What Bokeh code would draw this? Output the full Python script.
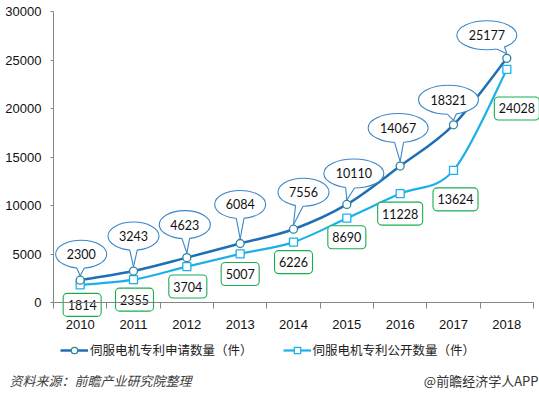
import math
import numpy as np
from bokeh.plotting import figure
from bokeh.models import Range1d, FixedTicker, Legend, LegendItem, Label
from bokeh.core.properties import value
from bokeh.embed import file_html
from bokeh.resources import INLINE

# ---------------- data ----------------
years = ["2010", "2011", "2012", "2013", "2014", "2015", "2016", "2017", "2018"]
applications = [2300, 3243, 4623, 6084, 7556, 10110, 14067, 18321, 25177]
publications = [1814, 2355, 3704, 5007, 6226, 8690, 11228, 13624, 24028]
y_ticks = [0, 5000, 10000, 15000, 20000, 25000, 30000]
series_names = ["伺服电机专利申请数量（件）", "伺服电机专利公开数量（件）"]
source_text = "资料来源：前瞻产业研究院整理"
credit_text = "@前瞻经济学人APP"

# ---------------- label placement (screen px offsets) ----------------
callout_dx = [1, 0, -2, 0, 10, 7, -2, -5, -20]
callout_up = [26, 35, 33, 39, 37, 31, 38, 25, 23]
box_dx = [2, 1, 1, 0, 0, 0, 0, 2, 10]
box_down = [20, 20, 20, 20, 20, 19, 20, 29, 39]

# ---------------- layout (pixels) ----------------
W, H = 539, 392
PLOT_L, PLOT_R = 53, 533      # x pixel span of the category axis
PLOT_T, PLOT_B = 11, 302      # y pixel span of the value axis
N = len(years)
YMAX = y_ticks[-1]
DX = N / (PLOT_R - PLOT_L)          # data units per px (x)
DY = YMAX / (PLOT_B - PLOT_T)       # data units per px (y)

C1 = "#1f6fb6"
C1M = "#31859c"
C2 = "#1cb0ea"
CALL = "#3a86c8"
BOXC = "#19ad4f"
AXC = "#868686"

xs = [i + 0.5 for i in range(N)]

p = figure(width=W, height=H, output_backend="svg", toolbar_location=None,
           x_range=Range1d(-PLOT_L * DX, (W - PLOT_L) * DX),
           y_range=Range1d(-(H - PLOT_B) * DY, PLOT_B * DY),
           min_border=0)
p.outline_line_color = None
p.xgrid.visible = False
p.ygrid.visible = False
p.background_fill_color = "white"
p.border_fill_color = "white"

# axes
ya = p.yaxis[0]
ya.fixed_location = 0
ya.bounds = (0, YMAX)
ya.ticker = FixedTicker(ticks=y_ticks)
ya.axis_line_color = AXC
ya.major_tick_line_color = AXC
ya.major_tick_out = 3
ya.major_tick_in = 0
ya.minor_tick_line_color = None
ya.major_label_standoff = 9
ya.major_label_text_font = "Liberation Sans"
ya.major_label_text_font_size = "13px"
ya.major_label_text_color = "#111111"

xa = p.xaxis[0]
xa.fixed_location = 0
xa.bounds = (0, N)
xa.ticker = FixedTicker(ticks=xs, minor_ticks=list(range(N + 1)))
xa.major_label_overrides = {x: y for x, y in zip(xs, years)}
xa.axis_line_color = AXC
xa.major_tick_line_color = None
xa.major_tick_out = 0
xa.major_tick_in = 0
xa.minor_tick_line_color = AXC
xa.minor_tick_out = 6
xa.minor_tick_in = 0
xa.major_label_standoff = 11
xa.major_label_text_font = "Liberation Sans"
xa.major_label_text_font_size = "13px"
xa.major_label_text_color = "#111111"


def smooth(xv, yv):
    n = len(xv)
    P = list(zip(xv, yv))
    seg = dict(x0=[], y0=[], x1=[], y1=[], cx0=[], cy0=[], cx1=[], cy1=[])
    for i in range(n - 1):
        pm = P[max(i - 1, 0)]
        p0 = P[i]
        p1 = P[i + 1]
        p2 = P[min(i + 2, n - 1)]
        seg["x0"].append(p0[0]); seg["y0"].append(p0[1])
        seg["x1"].append(p1[0]); seg["y1"].append(p1[1])
        seg["cx0"].append(p0[0] + (p1[0] - pm[0]) / 6)
        seg["cy0"].append(p0[1] + (p1[1] - pm[1]) / 6)
        seg["cx1"].append(p1[0] - (p2[0] - p0[0]) / 6)
        seg["cy1"].append(p1[1] - (p2[1] - p0[1]) / 6)
    return seg


p.bezier(line_color=C2, line_width=2.2, **smooth(xs, publications))
p.bezier(line_color=C1, line_width=2.5, **smooth(xs, applications))

# ---------------- callouts for applications ----------------
ecx, ecy, ew, eh = [], [], [], []
tail_fill_x, tail_fill_y, tail_lx, tail_ly = [], [], [], []
for i, v in enumerate(applications):
    cx = xs[i] + callout_dx[i] * DX
    cy = v + callout_up[i] * DY
    w = 60 if v >= 10000 else 51
    h = 29 if v >= 10000 else 28
    ecx.append(cx); ecy.append(cy); ew.append(w); eh.append(h)
    a, b = w / 2, h / 2
    tx, ty = -callout_dx[i], -callout_up[i] + 4.5
    t0 = math.atan2(ty / b, tx / a)
    d = 0.15
    pts = [(a * math.cos(t), b * math.sin(t)) for t in (t0 - d, t0 + d)]
    ins = [(0.8 * q[0], 0.8 * q[1]) for q in pts]
    poly = [ins[0], pts[0], (tx, ty), pts[1], ins[1]]
    tail_fill_x.append([cx + q[0] * DX for q in poly])
    tail_fill_y.append([cy + q[1] * DY for q in poly])
    for q in pts:
        tail_lx.append([cx + q[0] * DX, cx + tx * DX])
        tail_ly.append([cy + q[1] * DY, cy + ty * DY])

p.ellipse(x=ecx, y=ecy, width=ew, height=eh, width_units="screen",
          height_units="screen", fill_color="white", line_color=CALL, line_width=1.1)
p.patches(xs=tail_fill_x, ys=tail_fill_y, fill_color="white", line_color=None)
p.multi_line(xs=tail_lx, ys=tail_ly, line_color=CALL, line_width=1.1)
p.text(x=ecx, y=ecy, text=[str(v) for v in applications], text_align="center",
       text_baseline="middle", text_font=value("Lato"), text_font_size="12.5px",
       text_color="#111111")

# ---------------- boxes for publications ----------------
bl, br, bt, bb, bx, by = [], [], [], [], [], []
for i, v in enumerate(publications):
    cx = xs[i] + box_dx[i] * DX
    cy = v - box_down[i] * DY
    w = 45 if v >= 10000 else 38
    h = 23
    bl.append(cx - w / 2 * DX); br.append(cx + w / 2 * DX)
    bt.append(cy + h / 2 * DY); bb.append(cy - h / 2 * DY)
    bx.append(cx); by.append(cy)

p.quad(left=bl, right=br, top=bt, bottom=bb, fill_color="white",
       line_color=BOXC, line_width=1.1, border_radius=4)
p.text(x=bx, y=by, text=[str(v) for v in publications], text_align="center",
       text_baseline="middle", text_font=value("Lato"), text_font_size="12.5px",
       text_color="#111111")

# ---------------- markers ----------------
p.scatter(xs, publications, marker="square", size=8, fill_color="white",
          line_color=C2, line_width=1.3)
p.scatter(xs, applications, marker="circle", size=8, fill_color="white",
          line_color=C1M, line_width=1.3)

# ---------------- legend ----------------
nan = [np.nan]
l1 = p.line(nan, nan, line_color=C1, line_width=2.5)
m1 = p.scatter(nan, nan, marker="circle", size=9, fill_color="white",
               line_color=C1M, line_width=1.3)
l2 = p.line(nan, nan, line_color=C2, line_width=2.2)
m2 = p.scatter(nan, nan, marker="square", size=9, fill_color="white",
               line_color=C2, line_width=1.3)
legend = Legend(items=[LegendItem(label=series_names[0], renderers=[l1, m1]),
                       LegendItem(label=series_names[1], renderers=[l2, m2])],
                orientation="horizontal", location=(60, H - 359), padding=0, margin=0,
                spacing=30, glyph_width=28, glyph_height=16, label_standoff=2,
                border_line_color=None, background_fill_alpha=0,
                label_text_font="Noto Sans CJK SC", label_text_font_size="12.5px",
                label_text_color="#222222", label_height=16)
p.add_layout(legend)

p.add_layout(Label(x=9, y=H - 380, x_units="screen", y_units="screen", text=source_text,
                   text_font="Noto Sans CJK SC", text_font_size="13px",
                   text_font_style="italic", text_color="#404040",
                   text_baseline="middle"))
p.add_layout(Label(x=538, y=H - 380, x_units="screen", y_units="screen", text=credit_text,
                   text_font="Noto Sans CJK SC", text_font_size="13px",
                   text_color="#333333", text_align="right", text_baseline="middle"))

open("out.html", "w").write(file_html(p, INLINE))
